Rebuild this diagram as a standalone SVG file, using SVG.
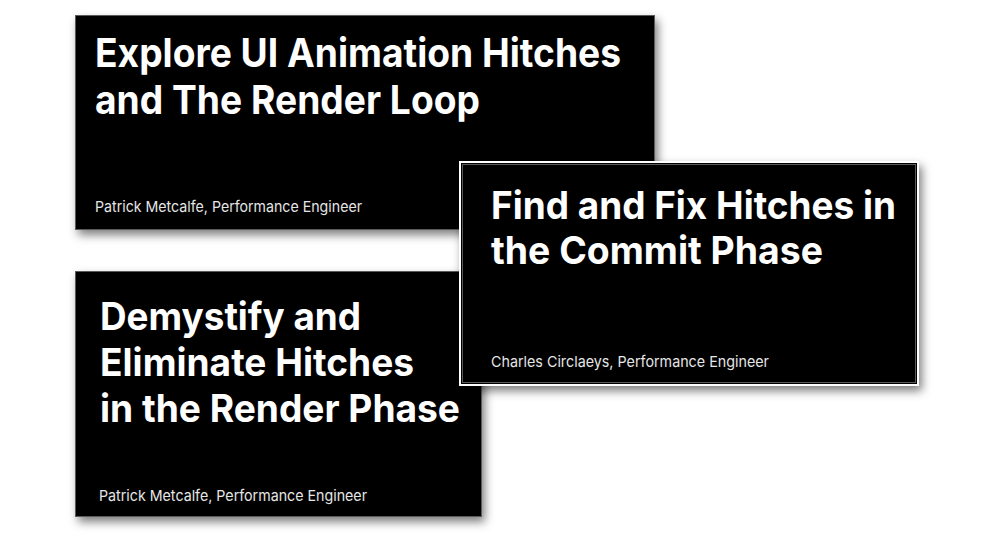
<svg xmlns="http://www.w3.org/2000/svg" width="1000" height="544" viewBox="0 0 1000 544">
  <defs>
    <filter id="shadow" x="-10%" y="-10%" width="125%" height="130%">
      <feDropShadow dx="3" dy="5" stdDeviation="5" flood-color="#000" flood-opacity="0.5"/>
    </filter>
    <style>
      .card { fill: #000; stroke: #5a5a5a; stroke-width: 1; }
      .title { font-family: Inter, "Liberation Sans", sans-serif; font-weight: 700; fill: #fff; }
      .sub { font-family: Inter, "Liberation Sans", sans-serif; font-weight: 400; font-size: 15px; fill: #e6e6e6; }
    </style>
  </defs>
  <rect width="1000" height="544" fill="#fff"/>

  <g id="card-explore">
    <rect class="card" x="75.5" y="15.5" width="579" height="214" filter="url(#shadow)"/>
    <text class="title" font-size="39.5" x="95" y="67" textLength="526" lengthAdjust="spacingAndGlyphs">Explore UI Animation Hitches</text>
    <text class="title" font-size="39.5" x="95" y="113.5" textLength="385" lengthAdjust="spacingAndGlyphs">and The Render Loop</text>
    <text class="sub" x="95" y="212" textLength="267" lengthAdjust="spacingAndGlyphs">Patrick Metcalfe, Performance Engineer</text>
  </g>

  <g id="card-demystify">
    <rect class="card" x="75.5" y="271.5" width="406" height="245" filter="url(#shadow)"/>
    <text class="title" font-size="38.5" x="100" y="330" textLength="261" lengthAdjust="spacingAndGlyphs">Demystify and</text>
    <text class="title" font-size="38.5" x="100" y="375.5" textLength="314" lengthAdjust="spacingAndGlyphs">Eliminate Hitches</text>
    <text class="title" font-size="38.5" x="100" y="421.5" textLength="360" lengthAdjust="spacingAndGlyphs">in the Render Phase</text>
    <text class="sub" x="99" y="501" textLength="268" lengthAdjust="spacingAndGlyphs">Patrick Metcalfe, Performance Engineer</text>
  </g>

  <g id="card-commit">
    <rect x="460" y="162" width="458" height="223" fill="#000" stroke="#fff" stroke-width="2" filter="url(#shadow)"/>
    <rect x="462.5" y="164.5" width="453" height="218" fill="none" stroke="#5a5a5a" stroke-width="1"/>
    <text class="title" font-size="38" x="491" y="218.5" textLength="405" lengthAdjust="spacingAndGlyphs">Find and Fix Hitches in</text>
    <text class="title" font-size="38" x="491" y="264" textLength="332" lengthAdjust="spacingAndGlyphs">the Commit Phase</text>
    <text class="sub" x="491" y="367" textLength="278" lengthAdjust="spacingAndGlyphs">Charles Circlaeys, Performance Engineer</text>
  </g>

  <g id="connectors"></g>
</svg>
